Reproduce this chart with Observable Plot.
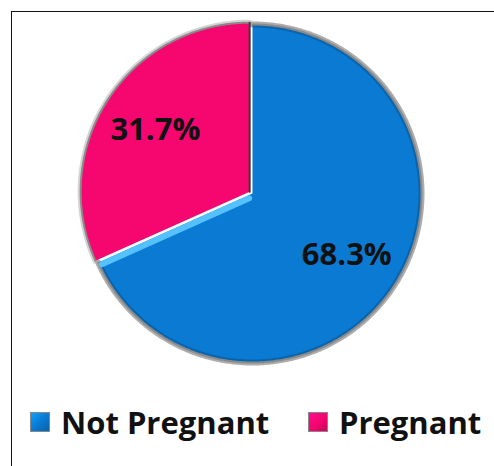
<!DOCTYPE html>
<html><head><meta charset="utf-8">
<script src="https://cdn.jsdelivr.net/npm/d3@7"></script>
<script src="https://cdn.jsdelivr.net/npm/@observablehq/plot@0.6"></script>
<style>
body{margin:0;background:#fff;}
#wrap{position:relative;width:494px;height:466px;overflow:hidden;font-family:"Open Sans",sans-serif;}
#frame{position:absolute;left:11px;top:11px;width:490px;height:470px;border-left:1px solid #111;border-top:1px solid #111;}
#chart{position:absolute;left:0;top:0;}
.item{position:absolute;top:404px;height:36px;display:flex;align-items:center;font-weight:700;font-size:31px;color:#111;white-space:nowrap;}
.sw{width:20px;height:20px;margin-right:11px;box-sizing:border-box;border:1px solid #888;}
</style></head><body>
<div id="wrap"><div id="frame"></div><div id="chart"></div></div>
<script>
const categories = ["Not Pregnant", "Pregnant"];
const values = [68.3, 31.7];
const labels = ["68.3%", "31.7%"];
const colors = ["#0a7ad2", "#f5076f"];
const explode = [0, 0.02];

const arcs = d3.pie().sort(null).value(d => d)(values);
const fills = [], rims = [], texts = [], bevel = [];
arcs.forEach((a, i) => {
  const mid = (a.startAngle + a.endAngle) / 2;
  const ox = explode[i] * Math.sin(mid), oy = explode[i] * Math.cos(mid);
  const cat = categories[i];
  fills.push({cat, x: ox, y: oy});
  const n = Math.ceil((a.endAngle - a.startAngle) / (Math.PI / 360));
  for (let k = 0; k <= n; k++) {
    const t = a.startAngle + (a.endAngle - a.startAngle) * k / n;
    fills.push({cat, x: ox + Math.sin(t), y: oy + Math.cos(t)});
    rims.push({cat, x: ox + Math.sin(t), y: oy + Math.cos(t)});
  }
  fills.push({cat, x: ox, y: oy});
  texts.push({label: labels[i], x: ox + 0.665 * Math.sin(mid), y: oy + 0.665 * Math.cos(mid)});
});
// light bevel along the blue slice's edge next to the pink slice
const e = arcs[0].endAngle, perp = e - Math.PI / 2;
const inset = 0.018;
bevel.push({x: inset * Math.sin(perp) + 0.03 * Math.sin(e), y: inset * Math.cos(perp) + 0.03 * Math.cos(e)});
bevel.push({x: inset * Math.sin(perp) + 0.985 * Math.sin(e), y: inset * Math.cos(perp) + 0.985 * Math.cos(e)});
// dark shadow edge on the pink slice next to the blue slice
const s0 = arcs[1].endAngle, mid1 = (arcs[1].startAngle + arcs[1].endAngle) / 2;
const pox = explode[1] * Math.sin(mid1), poy = explode[1] * Math.cos(mid1);
const shadow = [{x: pox, y: poy}, {x: pox + Math.sin(s0), y: poy + Math.cos(s0)}];

const chart = Plot.plot({
  width: 494, height: 400,
  x: {domain: [-1, 1], range: [83, 421], axis: null},
  y: {domain: [-1, 1], range: [362, 24], axis: null},
  color: {domain: categories, range: colors},
  marks: [
    Plot.line(rims, {x: "x", y: "y", z: "cat", stroke: "#d4d4d4", strokeWidth: 6}),
    Plot.line(fills, {x: "x", y: "y", z: "cat", fill: "cat", stroke: "none"}),
    Plot.line(rims, {x: "x", y: "y", z: "cat", stroke: "#000", strokeOpacity: 0.18, strokeWidth: 6, filter: d => d.cat === "Not Pregnant", dx: 0, dy: 0}),
    Plot.line(rims, {x: "x", y: "y", z: "cat", stroke: "#8a8a8a", strokeWidth: 2}),
    Plot.line(bevel, {x: "x", y: "y", stroke: "#55c2ff", strokeWidth: 6}),
    Plot.line(shadow, {x: "x", y: "y", stroke: "#3a3a3a", strokeWidth: 2}),
    Plot.text(texts, {x: "x", y: "y", text: "label", fontSize: 31, fontWeight: "bold", fill: "#111", fontFamily: "Open Sans"})
  ]
});
const wrap = document.getElementById("wrap");
document.getElementById("chart").appendChild(chart);
const lefts = [30, 308];
categories.forEach((c, i) => {
  const it = document.createElement("div");
  it.className = "item";
  it.style.left = lefts[i] + "px";
  const sw = document.createElement("span");
  sw.className = "sw";
  sw.style.background = `linear-gradient(135deg, ${d3.color(colors[i]).brighter(0.8)}, ${colors[i]} 50%, ${d3.color(colors[i]).darker(0.6)})`;
  it.appendChild(sw);
  it.appendChild(document.createTextNode(c));
  wrap.appendChild(it);
});
</script>
</body></html>
